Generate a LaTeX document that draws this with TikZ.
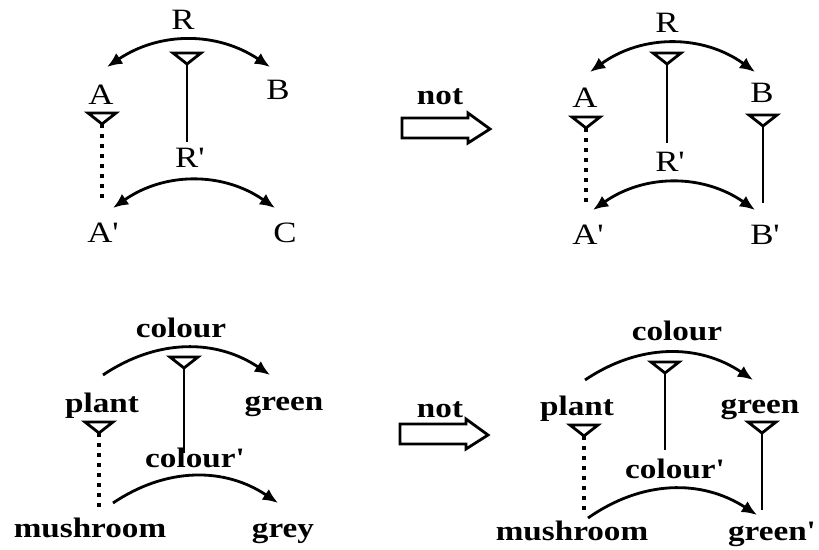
\documentclass[tikz,border=0pt]{standalone}
\usepackage{fontspec}
\newfontfamily\lblfont{Liberation Serif}[FakeStretch=1.18]
\usetikzlibrary{arrows.meta}
\tikzset{
  lbl/.style={anchor=base, inner sep=1pt, font=\lblfont\fontsize{21}{24}\selectfont},
  word/.style={lbl, font=\lblfont\bfseries\fontsize{20}{24}\selectfont},
  rel/.style={line width=2pt, -{Latex[length=0.38cm,width=0.32cm]}},
  birel/.style={rel, {Latex[length=0.38cm,width=0.32cm]}-{Latex[length=0.38cm,width=0.32cm]}},
  stem/.style={line width=2pt},
  dotstem/.style={line width=2.4pt, dash pattern=on 0.11cm off 0.14cm},
  ymark/.pic={\draw[stem, line join=miter] (-14,0) -- (14,0) -- (0,11) -- cycle; \coordinate (-tip) at (0,11);},
  notarrow/.pic={\draw[stem, line join=miter] (0,-10) -- (66,-10) -- (66,-15) -- (88,1) -- (66,15) -- (66,10) -- (0,10) -- cycle;}
}

\begin{document}
\begin{tikzpicture}[x=0.025cm,y=-0.025cm]
  \fill[white] (0,0) rectangle (819,550);

  \node[lbl] (R1) at (183,30) {R};
  \node[lbl] (A1) at (101,105) {A};
  \node[lbl] (B1) at (278,100) {B};
  \node[lbl] (Rp1) at (190,168) {R'};
  \node[lbl] (Ap1) at (103,242) {A'};
  \node[lbl] (C1) at (285,242) {C};
  \draw[birel] ([shift={(6,-38)}]A1.base) to[bend left=34] ([shift={(-8,-33)}]B1.base);
  \draw[birel] ([shift={(10,-34)}]Ap1.base) to[bend left=35] ([shift={(-10,-34)}]C1.base);
  \pic (mR1) at ([shift={(4,23)}]R1.base) {ymark};
  \pic (mA1) at ([shift={(1,8)}]A1.base) {ymark};
  \draw[stem, shorten >=0.65cm] (mR1-tip) -- (mR1-tip |- Rp1.base);
  \draw[dotstem, shorten >=1.05cm] (mA1-tip) -- (mA1-tip |- Ap1.base);

  \node[word] (not1) at (440,105) {not};
  \pic at (402,128) {notarrow};

  \node[lbl] (R2) at (667,33) {R};
  \node[lbl] (A2) at (585,108) {A};
  \node[lbl] (B2) at (762,103) {B};
  \node[lbl] (Rp2) at (670,172) {R'};
  \node[lbl] (Ap2) at (588,244) {A'};
  \node[lbl] (Bp2) at (765,244) {B'};
  \draw[birel] ([shift={(5,-36)}]A2.base) to[bend left=36] ([shift={(-7,-31)}]B2.base);
  \draw[birel] ([shift={(5,-34)}]Ap2.base) to[bend left=35] ([shift={(-10,-34)}]Bp2.base);
  \pic (mR2) at ([shift={(0,20)}]R2.base) {ymark};
  \pic (mA2) at ([shift={(1,9)}]A2.base) {ymark};
  \pic (mB2) at ([shift={(1,12)}]B2.base) {ymark};
  \draw[stem, shorten >=0.72cm] (mR2-tip) -- (mR2-tip |- Rp2.base);
  \draw[dotstem, shorten >=1.02cm] (mA2-tip) -- (mA2-tip |- Ap2.base);
  \draw[stem, shorten >=1.02cm] (mB2-tip) -- (mB2-tip |- Bp2.base);

  \node[word] (col1) at (181,337) {colour};
  \node[word] (plant1) at (102,412) {plant};
  \node[word] (green1) at (284,410) {green};
  \node[word] (colp1) at (195,467) {colour'};
  \node[word] (mush1) at (90,537) {mushroom};
  \node[word] (grey1) at (283,537) {grey};
  \draw[rel] ([shift={(1,-37)}]plant1.base) to[bend left=34] ([shift={(-14,-35)}]green1.base);
  \draw[rel] ([shift={(23,-34)}]mush1.base) to[bend left=34] ([shift={(-5,-34)}]grey1.base);
  \pic (mcol1) at ([shift={(3,20)}]col1.base) {ymark};
  \pic (mplant1) at ([shift={(-3,10)}]plant1.base) {ymark};
  \draw[stem, shorten >=0.35cm] (mcol1-tip) -- (mcol1-tip |- colp1.base);
  \draw[dotstem, shorten >=0.75cm] (mplant1-tip) -- (mplant1-tip |- mush1.base);

  \node[word] (not2) at (440,417) {not};
  \pic at (400,434) {notarrow};

  \node[word] (col2) at (677,340) {colour};
  \node[word] (plant2) at (577,415) {plant};
  \node[word] (green2) at (760,413) {green};
  \node[word] (colp2) at (675,478) {colour'};
  \node[word] (mush2) at (572,540) {mushroom};
  \node[word] (greenp2) at (772,540) {green'};
  \draw[rel] ([shift={(8,-35)}]plant2.base) to[bend left=34] ([shift={(-7,-33)}]green2.base);
  \draw[rel] ([shift={(16,-22)}]mush2.base) to[bend left=34] ([shift={(-15,-25)}]greenp2.base);
  \pic (mcol2) at ([shift={(-12,22)}]col2.base) {ymark};
  \pic (mplant2) at ([shift={(7,10)}]plant2.base) {ymark};
  \pic (mgreen2) at ([shift={(2,9)}]green2.base) {ymark};
  \draw[stem, shorten >=0.7cm] (mcol2-tip) -- (mcol2-tip |- colp2.base);
  \draw[dotstem, shorten >=0.75cm] (mplant2-tip) -- (mplant2-tip |- mush2.base);
  \draw[stem, shorten >=0.75cm] (mgreen2-tip) -- (mgreen2-tip |- greenp2.base);
\end{tikzpicture}
\end{document}
